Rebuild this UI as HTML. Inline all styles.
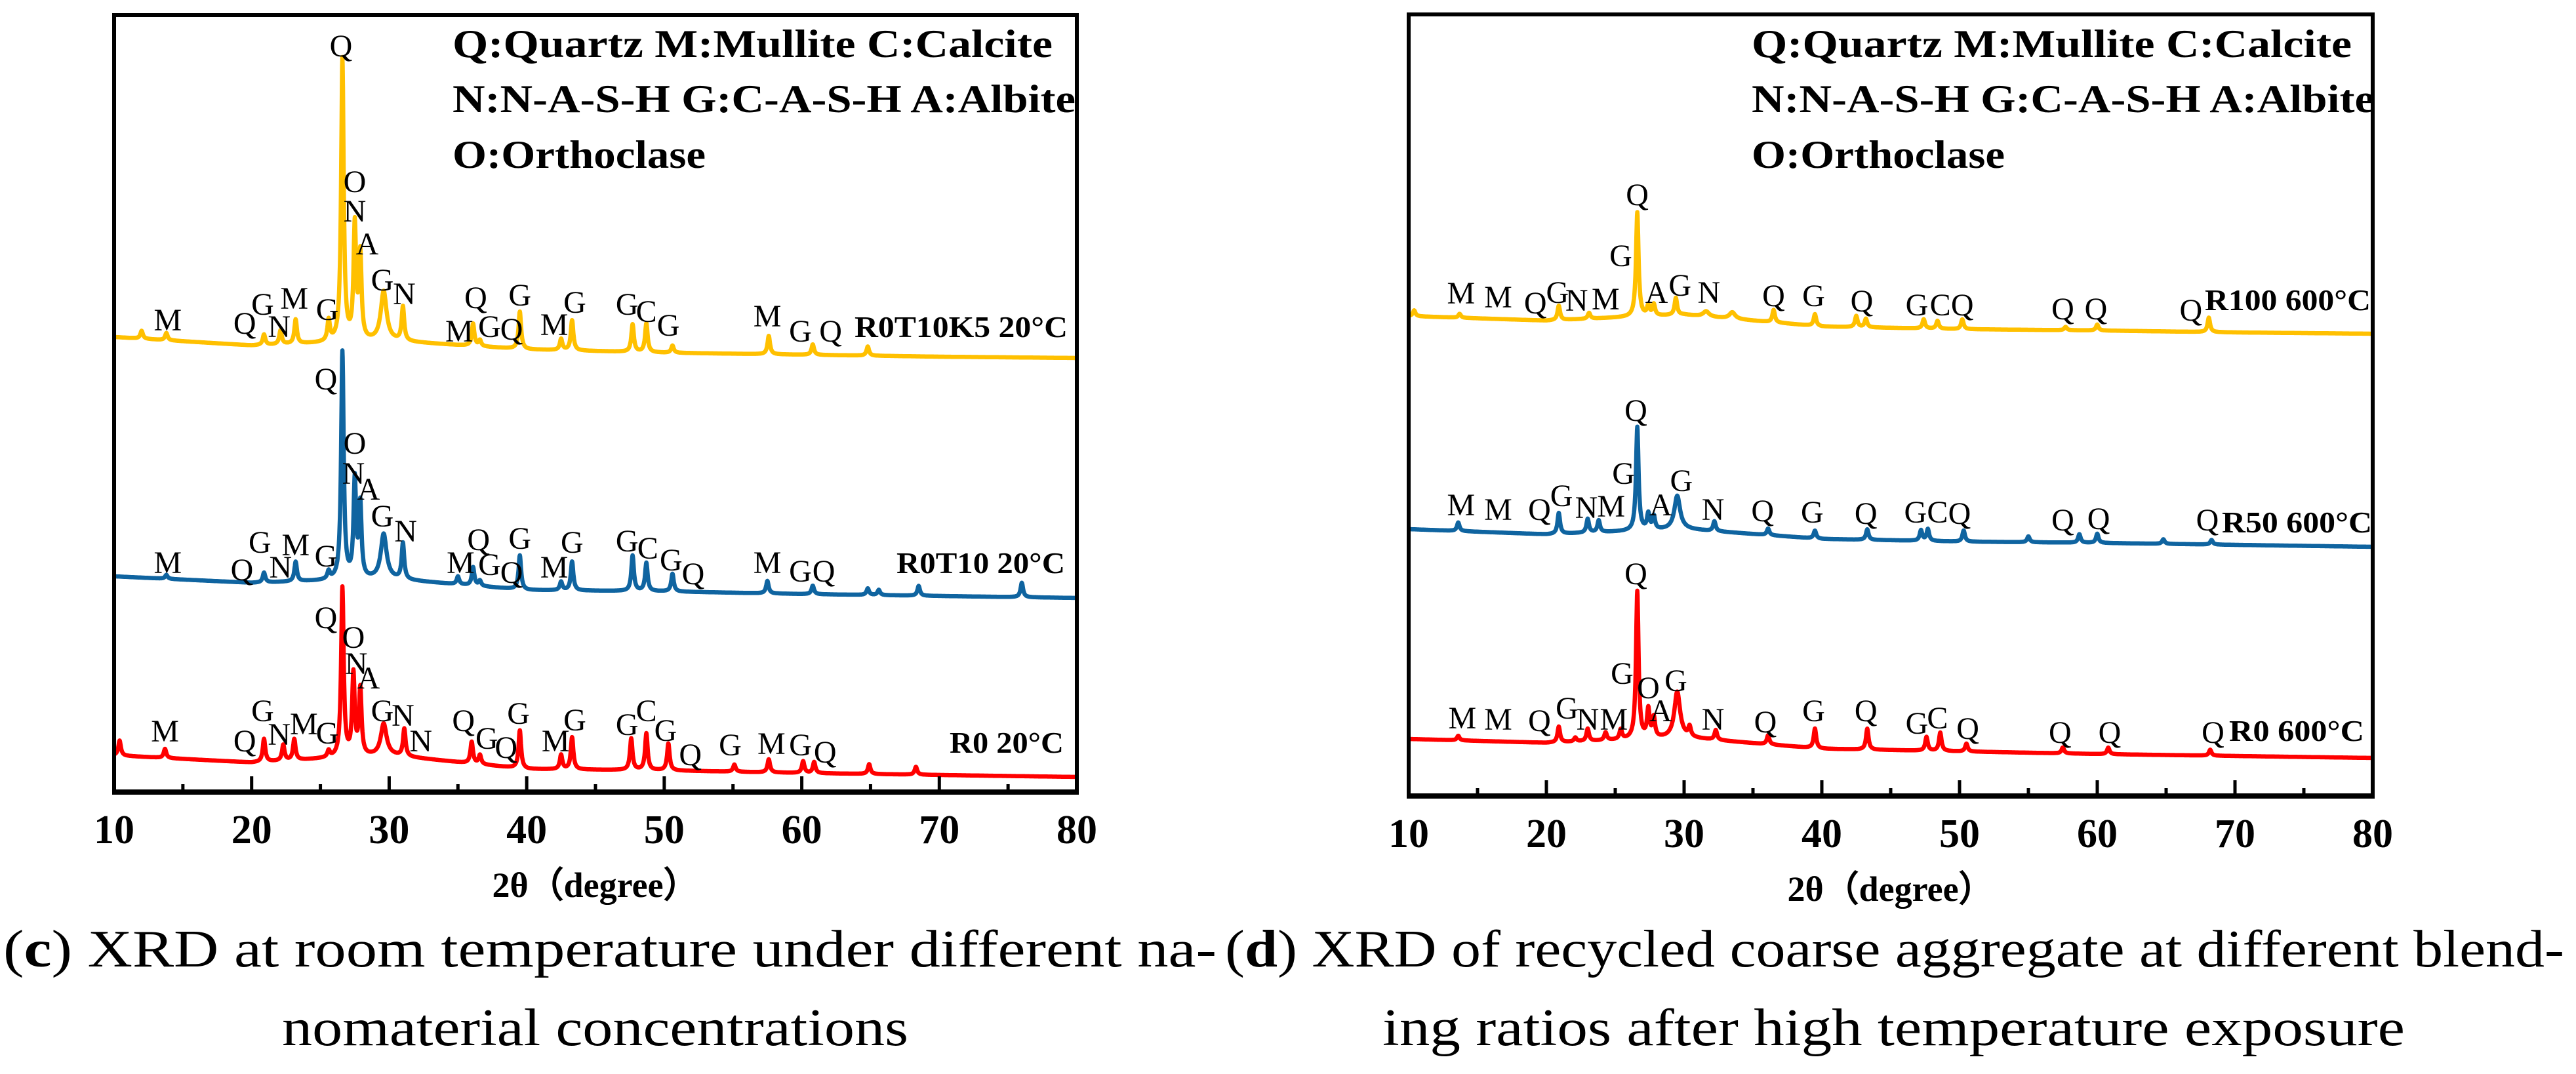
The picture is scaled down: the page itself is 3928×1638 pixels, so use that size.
<!DOCTYPE html>
<html><head><meta charset="utf-8"><title>XRD patterns</title>
<style>
html,body{margin:0;padding:0;background:#fff;}
svg{display:block;}
text{font-family:"Liberation Serif","Times New Roman",serif;}
</style></head>
<body>
<svg id="fig" width="3928" height="1638" viewBox="0 0 3928 1638" xmlns="http://www.w3.org/2000/svg">
  <g id="panelC"></g>
  <g id="panelD"></g>
  <g>
    <text x="5" y="1474" font-size="80" textLength="1850" lengthAdjust="spacingAndGlyphs">(<tspan font-weight="bold">c</tspan>) XRD at room temperature under different na-</text>
    <text x="430" y="1594" font-size="80" textLength="955" lengthAdjust="spacingAndGlyphs">nomaterial concentrations</text>
  </g>
  <g>
    <text x="1868" y="1474" font-size="80" textLength="2042" lengthAdjust="spacingAndGlyphs">(<tspan font-weight="bold">d</tspan>) XRD of recycled coarse aggregate at different blend-</text>
    <text x="2108" y="1594" font-size="80" textLength="1559" lengthAdjust="spacingAndGlyphs">ing ratios after high temperature exposure</text>
  </g>
</svg>
<script>
// ---------- Panel C data ----------
const xTicks = [10,20,30,40,50,60,70,80];
const baseKnots = [10,20,30,40,50,60,70,80];
// R0T10K5 20°C (yellow)
const cYellowBase = [694,681,688,675,670,667,664,662];
const cYellowPos = [12.0,13.8,20.9,22.1,23.2,25.6,26.6,27.5,27.9,29.6,31.0,36.1,36.6,39.5,42.5,43.3,47.7,48.7,50.6,57.6,60.8,64.8];
const cYellowInt = [12,11,16,21,37,32,431,174,129,75,52,34,9,57,17,46,42,44,11,28,16,14];
// R0T10 20°C (blue)
const cBlueBase = [329,319,325,308,306,302,299,296];
const cBluePos = [13.8,20.9,23.2,25.6,26.6,27.5,27.9,29.6,31.0,35.0,36.1,36.6,39.5,42.5,43.3,47.7,48.7,50.6,57.5,60.8,64.8,65.6,68.5,76.0];
const cBlueInt = [6,15,30,12,347,149,111,68,55,12,28,8,52,13,44,54,43,27,19,13,10,8,15,22];
// R0 20°C (red)
const cRedBase = [56,45,56,35,33,29,26,23];
const cRedPos = [10.4,13.7,20.9,22.3,23.1,25.6,26.6,27.4,27.9,29.6,31.1,36.0,36.6,39.5,42.5,43.3,47.6,48.7,50.3,55.1,57.6,60.1,60.9,64.9,68.3];
const cRedInt = [23,14,35,24,32,10,258,124,101,48,42,33,14,58,22,49,48,56,41,11,20,18,17,15,12];

// ---------- Panel D data ----------
const dYellowBase = [732,725,734,716,712,710,707,705];
const dYellowPos = [10.4,13.7,20.9,23.1,26.6,27.4,27.8,29.4,31.6,33.5,36.5,39.5,42.5,43.2,47.4,48.4,50.2,57.7,60.0,68.1];
const dYellowInt = [9,6,22,9,159,15,17,26,8,10,19,18,17,13,14,12,15,5,9,22];
const dBlueBase = [407,399,407,392,388,386,383,380];
const dBluePos = [13.6,20.9,23.0,23.8,26.6,27.4,27.8,29.5,32.2,36.1,39.5,43.3,47.2,47.7,50.3,55.0,58.7,60.0,64.8,68.3];
const dBlueInt = [13,32,21,18,158,24,20,51,15,10,12,16,16,18,17,9,13,14,7,7];
const dRedBase = [87,81,89,72,68,64,61,58];
const dRedPos = [13.6,20.9,22.1,23.0,24.3,25.4,26.6,27.4,27.8,29.5,30.4,32.3,36.1,39.5,43.3,47.6,48.6,50.5,57.5,60.8,68.2];
const dRedInt = [7,24,6,19,12,15,225,43,30,70,15,15,14,30,32,21,28,12,9,10,9];

// Peak annotation labels: [letter, 2theta-position, label baseline y]
const cYellowLabels = [["M",13.9,504],["Q",19.5,509],["G",20.8,480],["N",22.0,514],["M",23.1,471],["G",25.5,488],["Q",26.5,86],["O",27.5,293],["N",27.5,338],["A",28.4,388],["G",29.5,443],["N",31.1,464],["M",35.1,521],["G",37.3,514],["Q",38.9,518],["Q",36.3,470],["G",39.5,466],["M",42.0,511],["G",43.5,477],["G",47.3,480],["C",48.7,491],["G",50.3,512],["M",57.5,498],["G",59.9,521],["Q",62.1,521]];
const cBlueLabels = [["M",13.9,874],["Q",19.3,885],["G",20.6,843],["N",22.1,881],["M",23.2,847],["G",25.4,864],["Q",25.4,594],["O",27.5,692],["N",27.4,738],["A",28.5,762],["G",29.5,803],["N",31.2,826],["M",35.2,874],["G",37.3,877],["Q",38.9,889],["Q",36.5,839],["G",39.5,837],["M",42.0,881],["G",43.3,843],["G",47.3,841],["C",48.8,852],["G",50.5,870],["Q",52.1,891],["M",57.5,874],["G",59.9,887],["Q",61.6,887]];
const cRedLabels = [["M",13.7,1131],["Q",19.5,1146],["G",20.8,1100],["N",22.0,1136],["M",23.8,1120],["G",25.5,1134],["Q",25.4,958],["O",27.4,988],["N",27.6,1028],["A",28.5,1050],["G",29.5,1100],["N",31.0,1107],["N",32.3,1146],["Q",35.4,1115],["G",37.1,1142],["Q",38.5,1156],["G",39.4,1104],["M",42.1,1146],["G",43.5,1114],["G",47.3,1121],["C",48.7,1100],["G",50.1,1130],["Q",51.9,1167],["G",54.8,1152],["M",57.8,1150],["G",59.9,1152],["Q",61.7,1163]];
const dYellowLabels = [["M",13.8,463],["M",16.5,469],["Q",19.2,478],["G",20.8,462],["N",22.2,474],["M",24.3,472],["G",25.4,406],["Q",26.6,313],["A",28.0,462],["G",29.7,451],["N",31.8,462],["Q",36.5,467],["G",39.4,467],["Q",42.9,475],["G",46.9,481],["C",48.6,481],["Q",50.2,481],["Q",57.5,487],["Q",59.9,487],["Q",66.8,489]];
const dBlueLabels = [["M",13.8,786],["M",16.5,793],["Q",19.5,793],["G",21.1,772],["N",22.9,790],["M",24.7,788],["G",25.6,738],["Q",26.5,642],["A",28.3,786],["G",29.8,749],["N",32.1,793],["Q",35.7,795],["G",39.3,797],["Q",43.2,799],["G",46.8,797],["C",48.4,797],["Q",50.0,799],["Q",57.5,809],["Q",60.1,807],["Q",68.0,809]];
const dRedLabels = [["M",13.9,1111],["M",16.5,1113],["Q",19.5,1115],["G",21.5,1096],["N",23.0,1113],["M",24.9,1113],["G",25.5,1043],["Q",26.5,891],["O",27.4,1065],["A",28.3,1100],["G",29.4,1054],["N",32.1,1113],["Q",35.9,1117],["G",39.4,1100],["Q",43.2,1100],["G",46.9,1119],["C",48.4,1111],["Q",50.6,1127],["Q",57.3,1133],["Q",60.9,1133],["Q",68.4,1133]];

const NS = "http://www.w3.org/2000/svg";
function mk(tag, attrs, parent){
  const e = document.createElementNS(NS, tag);
  for (const k in attrs) e.setAttribute(k, attrs[k]);
  parent.appendChild(e);
  return e;
}
function interp(ks, vs, t){
  for (let i=0;i<ks.length-1;i++){
    if (t<=ks[i+1]){ const f=(t-ks[i])/(ks[i+1]-ks[i]); return vs[i]+f*(vs[i+1]-vs[i]); }
  }
  return vs[vs.length-1];
}
function intensity(base, pos, ints, t){
  let I = interp(baseKnots, base, t);
  for (let i=0;i<pos.length;i++){
    const w = (Math.abs(pos[i]-29.6)<0.15 || pos[i]===31.6 || pos[i]===33.5) ? 0.25 : 0.11;
    const d = (t-pos[i])/w;
    I += ints[i]/(1+d*d);
  }
  return I;
}

function drawPanel(g, cfg){
  const xS = t => cfg.x0 + (t-10)*(cfg.x1-cfg.x0)/70;
  const yS = I => cfg.yb - I;
  cfg.series.forEach(s=>{
    let d = "";
    for (let t=10; t<=80.0001; t+=0.02){
      const x = xS(t), y = yS(intensity(s.base, s.pos, s.ints, t));
      d += (d ? "L" : "M") + x.toFixed(1) + "," + y.toFixed(1);
    }
    const p = mk("path", {d:d, fill:"none", stroke:s.color, "stroke-width":6.5, "stroke-linejoin":"round"}, g);
    
    
    s.labels.forEach(l=>{
      const tx = mk("text", {x:xS(l[1]).toFixed(1), y:l[2], "font-size":48, "text-anchor":"middle"}, g);
      tx.textContent = l[0];
      
      
    });
    const st = mk("text", {x:s.nameX, y:s.nameY, "font-size":46, "font-weight":"bold", textLength:s.nameW, lengthAdjust:"spacingAndGlyphs"}, g);
    st.textContent = s.label;
    
    
  });
  const fr = mk("rect", {x:cfg.x0, y:cfg.yt, width:cfg.x1-cfg.x0, height:cfg.yb-cfg.yt, fill:"none", stroke:"#000", "stroke-width":6}, g);
  
  
  const ax = mk("line", {x1:cfg.x0-3, x2:cfg.x1+3, y1:cfg.yb, y2:cfg.yb, stroke:"#000", "stroke-width":8}, g);
  
  
  for (let t=15; t<80; t+=5){
    const major = (t%10===0);
    const tk = mk("line", {x1:xS(t), x2:xS(t), y1:cfg.yb, y2:cfg.yb-(major?24:12), stroke:"#000", "stroke-width":5}, g);
    
    
  }
  xTicks.forEach(t=>{
    const tl = mk("text", {x:xS(t), y:cfg.yb+78, "font-size":62, "font-weight":"bold", "text-anchor":"middle"}, g);
    tl.textContent = String(t);
    
    
  });
  const title = mk("text", {x:(cfg.x0+cfg.x1)/2, y:cfg.yb+160, "font-size":54, "font-weight":"bold", "text-anchor":"middle"}, g);
  title.setAttribute("font-family", '"Liberation Serif","Noto Serif CJK SC",serif');
  title.textContent = "2θ（degree）";
  
  
  const lg = mk("g", {}, g);
  
  
  const lines = [["Q:Quartz  M:Mullite  C:Calcite",915,87],["N:N-A-S-H  G:C-A-S-H A:Albite",950,171],["O:Orthoclase",386,256]];
  lines.forEach(L=>{
    const t = mk("text", {x:cfg.lx, y:L[2], "font-size":60, "font-weight":"bold", textLength:L[1], lengthAdjust:"spacingAndGlyphs", "xml:space":"preserve"}, lg);
    t.textContent = L[0];
    
    
  });
}

drawPanel(document.getElementById("panelC"), {
  x0:174, x1:1642, yt:23, yb:1208, lx:690,
  series:[
    {name:"r0t10k5-20c", color:"#FFC000", base:cYellowBase, pos:cYellowPos, ints:cYellowInt, labels:cYellowLabels, label:"R0T10K5 20°C", nameX:1303, nameY:514, nameW:325},
    {name:"r0t10-20c", color:"#0F64A0", base:cBlueBase, pos:cBluePos, ints:cBlueInt, labels:cBlueLabels, label:"R0T10 20°C", nameX:1367, nameY:874, nameW:257},
    {name:"r0-20c", color:"#FF0000", base:cRedBase, pos:cRedPos, ints:cRedInt, labels:cRedLabels, label:"R0 20°C", nameX:1448, nameY:1148, nameW:174}
  ]
});
drawPanel(document.getElementById("panelD"), {
  x0:2148, x1:3618, yt:22, yb:1214, lx:2671,
  series:[
    {name:"r100-600c", color:"#FFC000", base:dYellowBase, pos:dYellowPos, ints:dYellowInt, labels:dYellowLabels, label:"R100 600°C", nameX:3362, nameY:473, nameW:253},
    {name:"r50-600c", color:"#0F64A0", base:dBlueBase, pos:dBluePos, ints:dBlueInt, labels:dBlueLabels, label:"R50 600°C", nameX:3388, nameY:812, nameW:229},
    {name:"r0-600c", color:"#FF0000", base:dRedBase, pos:dRedPos, ints:dRedInt, labels:dRedLabels, label:"R0 600°C", nameX:3399, nameY:1130, nameW:206}
  ]
});
</script>
</body></html>
